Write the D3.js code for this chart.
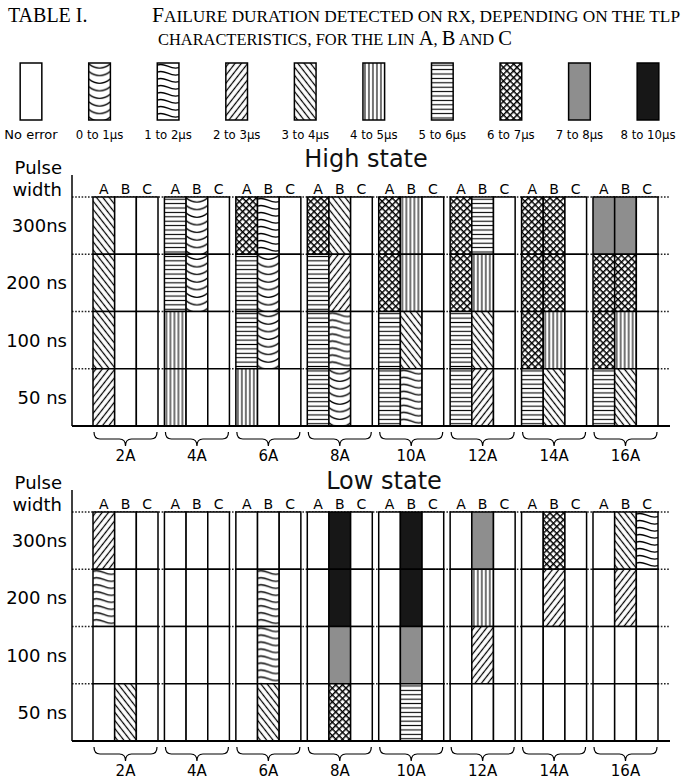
<!DOCTYPE html>
<html>
<head>
<meta charset="utf-8">
<script src="https://cdn.jsdelivr.net/npm/d3@7"></script>
<style>
  body { margin: 0; background: #fff; }
  svg { display: block; }
</style>
</head>
<body>
<svg id="chart" width="682" height="780"></svg>
<script>
// Failure-duration classes (index 0..9) used to fill every cell
const durationLabels = ["No error", "0 to 1µs", "1 to 2µs", "2 to 3µs", "3 to 4µs",
  "4 to 5µs", "5 to 6µs", "6 to 7µs", "7 to 8µs", "8 to 10µs"];
const groups = ["2A", "4A", "6A", "8A", "10A", "12A", "14A", "16A"];
const lines = ["A", "B", "C"];
const pulseWidths = ["300ns", "200 ns", "100 ns", "50 ns"];

// Per TLP current: [LIN A, LIN B, LIN C], each listed for 300, 200, 100, 50 ns
const highState = [
  [[4, 4, 4, 3], [0, 0, 0, 0], [0, 0, 0, 0]],
  [[6, 6, 5, 5], [1, 1, 0, 0], [0, 0, 0, 0]],
  [[7, 6, 6, 5], [2, 1, 1, 0], [0, 0, 0, 0]],
  [[7, 6, 6, 6], [4, 3, 2, 1], [0, 0, 0, 0]],
  [[7, 7, 6, 6], [5, 5, 4, 2], [0, 0, 0, 0]],
  [[7, 7, 6, 6], [6, 5, 4, 3], [0, 0, 0, 0]],
  [[7, 7, 7, 6], [7, 7, 5, 4], [0, 0, 0, 0]],
  [[8, 7, 7, 6], [8, 7, 5, 4], [0, 0, 0, 0]]
];
const lowState = [
  [[3, 2, 0, 0], [0, 0, 0, 4], [0, 0, 0, 0]],
  [[0, 0, 0, 0], [0, 0, 0, 0], [0, 0, 0, 0]],
  [[0, 0, 0, 0], [0, 2, 2, 4], [0, 0, 0, 0]],
  [[0, 0, 0, 0], [9, 9, 8, 7], [0, 0, 0, 0]],
  [[0, 0, 0, 0], [9, 9, 8, 6], [0, 0, 0, 0]],
  [[0, 0, 0, 0], [8, 5, 3, 0], [0, 0, 0, 0]],
  [[0, 0, 0, 0], [7, 3, 0, 0], [0, 0, 0, 0]],
  [[0, 0, 0, 0], [4, 3, 0, 0], [2, 0, 0, 0]]
];

const svg = d3.select("#chart");
const SANS = "DejaVu Sans, sans-serif";
const SERIF = "Liberation Serif, Times New Roman, serif";

// ---------- scales ----------
const xGroup = d3.scaleBand().domain(groups).range([93, 658]).paddingInner(0.09);
const xLine = d3.scaleBand().domain(lines).range([0, xGroup.bandwidth()]);
const cw = xLine.bandwidth();
const axisX = 72, lineEnd = 670;

// ---------- fill patterns ----------
const defs = svg.append("defs");
function pat(id, w, h, transform) {
  const p = defs.append("pattern").attr("id", id)
    .attr("patternUnits", "userSpaceOnUse")
    .attr("width", w).attr("height", h);
  if (transform) p.attr("patternTransform", transform);
  p.append("rect").attr("width", w).attr("height", h).attr("fill", "#fff");
  return p;
}
// 0 to 1 µs : stacked bowls
pat("p1", cw, 7.6).append("path")
  .attr("d", `M0,0.8 Q${cw / 2},9.4 ${cw},0.8`)
  .attr("fill", "none").attr("stroke", "#000").attr("stroke-width", 1.3);
// 1 to 2 µs : waves
pat("p2", cw, 7).append("path")
  .attr("d", `M0,2.2 C${cw * 0.35},-1.4 ${cw * 0.6},7.6 ${cw},4.6`)
  .attr("fill", "none").attr("stroke", "#000").attr("stroke-width", 1.3);
// 2 to 3 µs : "/" hatching, 3 to 4 µs : "\" hatching
pat("p3", 5, 10, "rotate(38)").append("line")
  .attr("x1", 2.5).attr("x2", 2.5).attr("y1", 0).attr("y2", 10)
  .attr("stroke", "#000").attr("stroke-width", 1.25);
pat("p4", 5, 10, "rotate(-38)").append("line")
  .attr("x1", 2.5).attr("x2", 2.5).attr("y1", 0).attr("y2", 10)
  .attr("stroke", "#000").attr("stroke-width", 1.25);
// 4 to 5 µs : vertical lines
pat("p5", 4, 10).append("line")
  .attr("x1", 2).attr("x2", 2).attr("y1", 0).attr("y2", 10)
  .attr("stroke", "#000").attr("stroke-width", 1.1);
// 5 to 6 µs : horizontal lines
pat("p6", 10, 4.4).append("line")
  .attr("x1", 0).attr("x2", 10).attr("y1", 2.2).attr("y2", 2.2)
  .attr("stroke", "#000").attr("stroke-width", 1.1);
// 6 to 7 µs : dense cross-hatch
{
  const p = pat("p7", 4.8, 4.8, "rotate(45)");
  p.append("line").attr("x1", 0).attr("x2", 4.8).attr("y1", 0).attr("y2", 0)
    .attr("stroke", "#000").attr("stroke-width", 2.9);
  p.append("line").attr("x1", 0).attr("x2", 0).attr("y1", 0).attr("y2", 4.8)
    .attr("stroke", "#000").attr("stroke-width", 2.9);
}
const fillFor = v => v === 0 ? "#fff" : v === 8 ? "#8e8e8e" : v === 9 ? "#171717" : `url(#p${v})`;

// ---------- title ----------
svg.append("text").attr("x", 8).attr("y", 22)
  .attr("font-family", SERIF).attr("font-size", 20).text("TABLE I.");
const t1 = svg.append("text").attr("x", 152).attr("y", 22)
  .attr("font-family", SERIF).attr("textLength", 528).attr("lengthAdjust", "spacingAndGlyphs");
t1.append("tspan").attr("font-size", 20).text("F");
t1.append("tspan").attr("font-size", 16).text("AILURE DURATION DETECTED ON RX, DEPENDING ON THE TLP");
const t2 = svg.append("text").attr("x", 158).attr("y", 45)
  .attr("font-family", SERIF).attr("textLength", 354).attr("lengthAdjust", "spacingAndGlyphs");
[["CHARACTERISTICS, FOR THE LIN ", 16], ["A", 20], [", ", 16], ["B", 20], [" AND ", 16], ["C", 20]]
  .forEach(([s, f]) => t2.append("tspan").attr("font-size", f).text(s));

// ---------- legend ----------
const xLegend = d3.scalePoint().domain(durationLabels).range([31, 648]);
const leg = svg.append("g").selectAll("g").data(durationLabels).join("g")
  .attr("transform", d => `translate(${xLegend(d) - cw / 2},63)`);
leg.append("rect").attr("width", cw).attr("height", 57)
  .attr("fill", (d, i) => fillFor(i)).attr("stroke", "#000").attr("stroke-width", 1.5);
svg.append("g").selectAll("text").data(durationLabels).join("text")
  .attr("x", d => xLegend(d)).attr("y", 139).attr("text-anchor", "middle")
  .attr("font-family", (d, i) => i === 0 ? SANS : "DejaVu Sans Condensed, DejaVu Sans, sans-serif")
  .attr("font-stretch", (d, i) => i === 0 ? "normal" : "condensed")
  .attr("font-size", 13).text(d => d);

// ---------- one state panel ----------
function drawPanel(data, title, titleX, titleY, top, bottom) {
  const g = svg.append("g");
  const yRow = d3.scaleBand().domain(pulseWidths).range([top, bottom]);
  const rh = yRow.bandwidth();

  g.append("text").attr("x", titleX).attr("y", titleY).attr("text-anchor", "middle")
    .attr("font-family", SANS).attr("font-size", 24).attr("fill", "#111").text(title);
  g.append("text").attr("x", 62).attr("y", top - 23).attr("text-anchor", "end")
    .attr("font-family", SANS).attr("font-size", 18).text("Pulse");
  g.append("text").attr("x", 62).attr("y", top - 1).attr("text-anchor", "end")
    .attr("font-family", SANS).attr("font-size", 18).text("width");

  // row labels
  g.selectAll("text.row").data(pulseWidths).join("text").attr("class", "row")
    .attr("x", 67).attr("y", d => yRow(d) + rh / 2 + 6.5).attr("text-anchor", "end")
    .attr("font-family", SANS).attr("font-size", 18).text(d => d);

  // dotted row guides
  const guides = [top, ...pulseWidths.slice(1).map(p => yRow(p))];
  g.selectAll("line.guide").data(guides).join("line").attr("class", "guide")
    .attr("x1", axisX).attr("x2", lineEnd).attr("y1", d => d).attr("y2", d => d)
    .attr("stroke", "#222").attr("stroke-width", 1.3).attr("stroke-dasharray", "1.6,1.6");

  // column letters
  const colLabels = groups.flatMap(gr => lines.map(l => ({ gr, l })));
  g.selectAll("text.col").data(colLabels).join("text").attr("class", "col")
    .attr("x", d => xGroup(d.gr) + xLine(d.l) + cw / 2).attr("y", top - 3)
    .attr("text-anchor", "middle").attr("font-family", SANS).attr("font-size", 14)
    .text(d => d.l);

  // cells
  const cells = [];
  data.forEach((grp, gi) => grp.forEach((vals, li) => vals.forEach((v, pi) =>
    cells.push({ gr: groups[gi], l: lines[li], pw: pulseWidths[pi], v }))));
  const cg = g.selectAll("g.cell").data(cells).join("g").attr("class", "cell")
    .attr("transform", d => `translate(${xGroup(d.gr) + xLine(d.l)},${yRow(d.pw)})`);
  cg.append("rect").attr("width", cw).attr("height", rh)
    .attr("fill", d => fillFor(d.v)).attr("stroke", "#000").attr("stroke-width", 1.5);

  // axes
  g.append("line").attr("x1", axisX).attr("x2", axisX).attr("y1", top - 22).attr("y2", bottom)
    .attr("stroke", "#000").attr("stroke-width", 1.5);
  g.append("line").attr("x1", axisX).attr("x2", lineEnd).attr("y1", bottom).attr("y2", bottom)
    .attr("stroke", "#000").attr("stroke-width", 2);

  // braces and group labels
  const by = bottom + 6, d = 14;
  g.selectAll("path.brace").data(groups).join("path").attr("class", "brace")
    .attr("d", gr => {
      const x0 = xGroup(gr) + 1, x1 = xGroup(gr) + xGroup.bandwidth() - 1, m = (x0 + x1) / 2, h = by + d / 2;
      return `M${x0},${by} Q${x0},${h} ${x0 + 6},${h} L${m - 6},${h} Q${m},${h} ${m},${by + d}` +
        ` Q${m},${h} ${m + 6},${h} L${x1 - 6},${h} Q${x1},${h} ${x1},${by}`;
    })
    .attr("fill", "none").attr("stroke", "#000").attr("stroke-width", 1.2);
  g.selectAll("text.grp").data(groups).join("text").attr("class", "grp")
    .attr("x", gr => xGroup(gr) + xGroup.bandwidth() / 2).attr("y", bottom + 35)
    .attr("text-anchor", "middle").attr("font-family", SANS).attr("font-size", 15)
    .text(gr => gr);
}

drawPanel(highState, "High state", 366, 167, 197, 426);
drawPanel(lowState, "Low state", 384, 489, 512, 741);
</script>
</body>
</html>
